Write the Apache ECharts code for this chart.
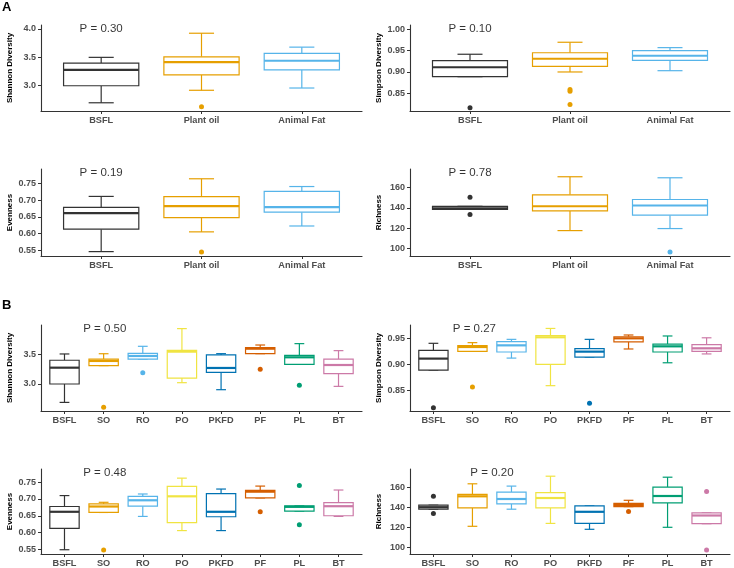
<!DOCTYPE html>
<html>
<head>
  <meta charset="utf-8">
  <title>Diversity boxplots</title>
  <script src="https://cdn.jsdelivr.net/npm/echarts@6/dist/echarts.min.js"></script>
  <style>
  html, body { margin: 0; padding: 0; background: #fff; }
  #main { width: 734px; height: 568px; }
  </style>
</head>
<body>
  <div id="main"></div>
  <script type="text/javascript">
  // groups and colours
  var groupsA = ['BSFL', 'Plant oil', 'Animal Fat'];
  var groupsB = ['BSFL', 'SO', 'RO', 'PO', 'PKFD', 'PF', 'PL', 'BT'];
  var colorsA = ['#333333', '#E69F00', '#56B4E9'];
  var colorsB = ['#333333', '#E69F00', '#56B4E9', '#F0E442', '#0072B2', '#D55E00', '#009E73', '#CC79A7'];

  // boxes: [lower whisker, Q1, median, Q3, upper whisker]; outliers: [group index, value]
  var shannonA = [[2.70, 3.00, 3.28, 3.40, 3.50], [2.92, 3.19, 3.415, 3.51, 3.925], [2.96, 3.28, 3.44, 3.57, 3.68]];
  var shannonAOut = [[1, 2.63]];
  var simpsonA = [[0.889, 0.889, 0.911, 0.9265, 0.9415], [0.900, 0.913, 0.931, 0.945, 0.9696], [0.903, 0.927, 0.938, 0.950, 0.957]];
  var simpsonAOut = [[0, 0.816], [1, 0.859], [1, 0.855], [1, 0.824]];
  var evennessA = [[0.547, 0.6135, 0.661, 0.678, 0.7107], [0.6056, 0.648, 0.682, 0.710, 0.763], [0.623, 0.664, 0.679, 0.7256, 0.740]];
  var evennessAOut = [[1, 0.546]];
  var richnessA = [[138.5, 138.5, 139.5, 141.5, 141.5], [117.7, 137, 141.6, 152.8, 170.5], [119.7, 132.8, 142.3, 148.2, 169.5]];
  var richnessAOut = [[0, 150.5], [0, 133.4], [2, 96.7]];

  var shannonB = [[2.69, 3.00, 3.275, 3.40, 3.506], [3.31, 3.31, 3.388, 3.42, 3.51], [3.42, 3.42, 3.472, 3.517, 3.635],
    [3.022, 3.10, 3.545, 3.567, 3.933], [2.904, 3.197, 3.27, 3.489, 3.511], [3.511, 3.511, 3.595, 3.612, 3.657],
    [3.33, 3.33, 3.45, 3.483, 3.68], [2.96, 3.174, 3.32, 3.42, 3.562]];
  var shannonBOut = [[1, 2.607], [2, 3.19], [5, 3.247], [6, 2.977]];
  var simpsonB = [[0.889, 0.889, 0.911, 0.927, 0.9404], [0.925, 0.925, 0.9333, 0.936, 0.9417], [0.912, 0.9237, 0.9365, 0.9436, 0.948],
    [0.859, 0.900, 0.952, 0.955, 0.969], [0.914, 0.914, 0.9244, 0.930, 0.948], [0.9295, 0.943, 0.950, 0.953, 0.9564],
    [0.903, 0.9237, 0.9346, 0.939, 0.9545], [0.920, 0.925, 0.9308, 0.9378, 0.951]];
  var simpsonBOut = [[0, 0.8167], [1, 0.8564], [4, 0.825]];
  var evennessB = [[0.549, 0.6127, 0.6618, 0.6775, 0.710], [0.6598, 0.6598, 0.6775, 0.6853, 0.6900], [0.648, 0.6784, 0.696, 0.7078, 0.7147],
    [0.6059, 0.6294, 0.7078, 0.7373, 0.7618], [0.6059, 0.647, 0.6618, 0.7157, 0.7294], [0.703, 0.703, 0.7216, 0.7255, 0.7382],
    [0.6637, 0.6637, 0.6765, 0.6794, 0.6794], [0.648, 0.650, 0.6784, 0.6892, 0.7265]];
  var evennessBOut = [[1, 0.548], [5, 0.6618], [6, 0.740], [6, 0.6235]];
  var richnessB = [[137.9, 137.9, 139.9, 141.9, 141.9], [120.8, 139.2, 150.8, 152.7, 163.3], [137.9, 143.2, 148.1, 155, 161],
    [123.7, 139.2, 149.1, 154.4, 170.9], [117.8, 123.7, 135.3, 141.2, 141.2], [140.5, 140.5, 142.2, 143.8, 146.8],
    [119.8, 144.2, 151.1, 160, 169.9], [123.4, 123.4, 131.6, 134.3, 134.3]];
  var richnessBOut = [[0, 150.8], [0, 133.6], [5, 135.6], [7, 155.7], [7, 97]];

  // P-value labels: [x position, y position, text]
  var pLabels = [
    [0, 4.0, 'P = 0.30'], [0, 1.00, 'P = 0.10'], [0, 0.78, 'P = 0.19'], [0, 174.2, 'P = 0.78'],
    [1.03, 3.926, 'P = 0.50'], [1.05, 0.968, 'P = 0.27'], [1.03, 0.7776, 'P = 0.48'], [1.5, 174.2, 'P = 0.20']
  ];

  var FONT = '"Liberation Sans", Arial, sans-serif';

  var panels = [
    { grid: { left: 41, top: 25, width: 321, height: 86 }, groups: groupsA, colors: colorsA, box: shannonA, out: shannonAOut,
      name: 'Shannon Diversity', min: 2.555, max: 4.07, ticks: [3.0, 3.5, 4.0], dec: 1 },
    { grid: { left: 410, top: 25, width: 320, height: 86 }, groups: groupsA, colors: colorsA, box: simpsonA, out: simpsonAOut,
      name: 'Simpson Diversity', min: 0.8086, max: 1.010, ticks: [0.85, 0.90, 0.95, 1.00], dec: 2 },
    { grid: { left: 41, top: 169, width: 321, height: 87 }, groups: groupsA, colors: colorsA, box: evennessA, out: evennessAOut,
      name: 'Evenness', min: 0.534, max: 0.792, ticks: [0.55, 0.60, 0.65, 0.70, 0.75], dec: 2 },
    { grid: { left: 410, top: 169, width: 320, height: 87 }, groups: groupsA, colors: colorsA, box: richnessA, out: richnessAOut,
      name: 'Richness', min: 92.8, max: 178.1, ticks: [100, 120, 140, 160], dec: 0 },
    { grid: { left: 41, top: 325, width: 321, height: 86 }, groups: groupsB, colors: colorsB, box: shannonB, out: shannonBOut,
      name: 'Shannon Diversity', min: 2.545, max: 3.994, ticks: [3.0, 3.5], dec: 1 },
    { grid: { left: 410, top: 325, width: 320, height: 86 }, groups: groupsB, colors: colorsB, box: simpsonB, out: simpsonBOut,
      name: 'Simpson Diversity', min: 0.8103, max: 0.9756, ticks: [0.85, 0.90, 0.95], dec: 2 },
    { grid: { left: 41, top: 469, width: 321, height: 86 }, groups: groupsB, colors: colorsB, box: evennessB, out: evennessBOut,
      name: 'Evenness', min: 0.5363, max: 0.789, ticks: [0.55, 0.60, 0.65, 0.70, 0.75], dec: 2 },
    { grid: { left: 410, top: 469, width: 320, height: 86 }, groups: groupsB, colors: colorsB, box: richnessB, out: richnessBOut,
      name: 'Richness', min: 93.1, max: 178.1, ticks: [100, 120, 140, 160], dec: 0 }
  ];

  function boxRender(colors) {
    return function (params, api) {
      var i = api.value(0);
      var c = colors[i];
      var pts = [1, 2, 3, 4, 5].map(function (k) { return api.coord([i, api.value(k)]); });
      var half = api.size([0.75, 0])[0] / 2;
      var cap = api.size([0.25, 0])[0] / 2;
      var x = pts[0][0];
      var yLow = pts[0][1], yQ1 = pts[1][1], yMed = pts[2][1], yQ3 = pts[3][1], yHigh = pts[4][1];
      var ls = { stroke: c, lineWidth: 1.2 };
      return {
        type: 'group',
        children: [
          { type: 'line', shape: { x1: x, y1: yLow, x2: x, y2: yQ1 }, style: ls },
          { type: 'line', shape: { x1: x, y1: yQ3, x2: x, y2: yHigh }, style: ls },
          { type: 'line', shape: { x1: x - cap, y1: yLow, x2: x + cap, y2: yLow }, style: ls },
          { type: 'line', shape: { x1: x - cap, y1: yHigh, x2: x + cap, y2: yHigh }, style: ls },
          { type: 'rect', shape: { x: x - half, y: yQ3, width: 2 * half, height: yQ1 - yQ3 },
            style: { fill: '#ffffff', stroke: c, lineWidth: 1.2 } },
          { type: 'line', shape: { x1: x - half, y1: yMed, x2: x + half, y2: yMed }, style: { stroke: c, lineWidth: 2.2 } }
        ]
      };
    };
  }

  var grids = [], xAxes = [], yAxes = [], series = [];
  panels.forEach(function (p, k) {
    var n = p.groups.length;
    var idx = p.groups.map(function (g, i) { return i; });
    grids.push(p.grid);
    xAxes.push({
      type: 'value', gridIndex: k, min: -0.6, max: n - 0.4,
      splitLine: { show: false },
      axisLine: { onZero: false, lineStyle: { color: '#333', width: 1.1 } },
      axisTick: { show: true, length: 3, customValues: idx, lineStyle: { color: '#333' } },
      axisLabel: {
        customValues: idx, margin: 5, color: '#4d4d4d', fontWeight: 'bold', fontSize: 9.2, fontFamily: FONT,
        formatter: function (v) { return p.groups[Math.round(v)]; }
      }
    });
    yAxes.push({
      type: 'value', gridIndex: k, min: p.min, max: p.max,
      name: p.name, nameLocation: 'middle', nameGap: 27,
      nameTextStyle: { color: '#000', fontWeight: 'bold', fontSize: 8, fontFamily: FONT },
      splitLine: { show: false },
      axisLine: { show: true, onZero: false, lineStyle: { color: '#333', width: 1.1 } },
      axisTick: { show: true, length: 3, customValues: p.ticks, lineStyle: { color: '#333' } },
      axisLabel: {
        customValues: p.ticks, margin: 5, color: '#4d4d4d', fontWeight: 'bold', fontSize: 9, fontFamily: FONT,
        formatter: function (v) { return v.toFixed(p.dec); }
      }
    });
    series.push({
      type: 'custom', xAxisIndex: k, yAxisIndex: k,
      renderItem: boxRender(p.colors),
      encode: { x: 0, y: [1, 2, 3, 4, 5] },
      data: p.box.map(function (b, i) { return [i].concat(b); }),
      silent: true, z: 2
    });
    series.push({
      type: 'scatter', xAxisIndex: k, yAxisIndex: k, symbolSize: 5, z: 3, silent: true,
      itemStyle: { opacity: 1, color: function (q) { return p.colors[q.value[0]]; } },
      data: p.out
    });
    series.push({
      type: 'scatter', xAxisIndex: k, yAxisIndex: k, symbolSize: 0, silent: true, z: 4,
      label: {
        show: true, position: 'inside', color: '#000', fontSize: 11.5, fontFamily: FONT,
        formatter: function (q) { return q.value[2]; }
      },
      data: [pLabels[k]]
    });
  });

  var myChart = echarts.init(document.getElementById('main'));
  var option = {
    backgroundColor: '#ffffff',
    animation: false,
    grid: grids,
    xAxis: xAxes,
    yAxis: yAxes,
    series: series,
    graphic: [
      { type: 'text', left: 2, top: 1, style: { text: 'A', fontSize: 13, fontWeight: 'bold', fill: '#000', fontFamily: FONT } },
      { type: 'text', left: 2, top: 299, style: { text: 'B', fontSize: 13, fontWeight: 'bold', fill: '#000', fontFamily: FONT } }
    ]
  };
  myChart.setOption(option);
  window.onresize = myChart.resize;
  </script>
</body>
</html>
